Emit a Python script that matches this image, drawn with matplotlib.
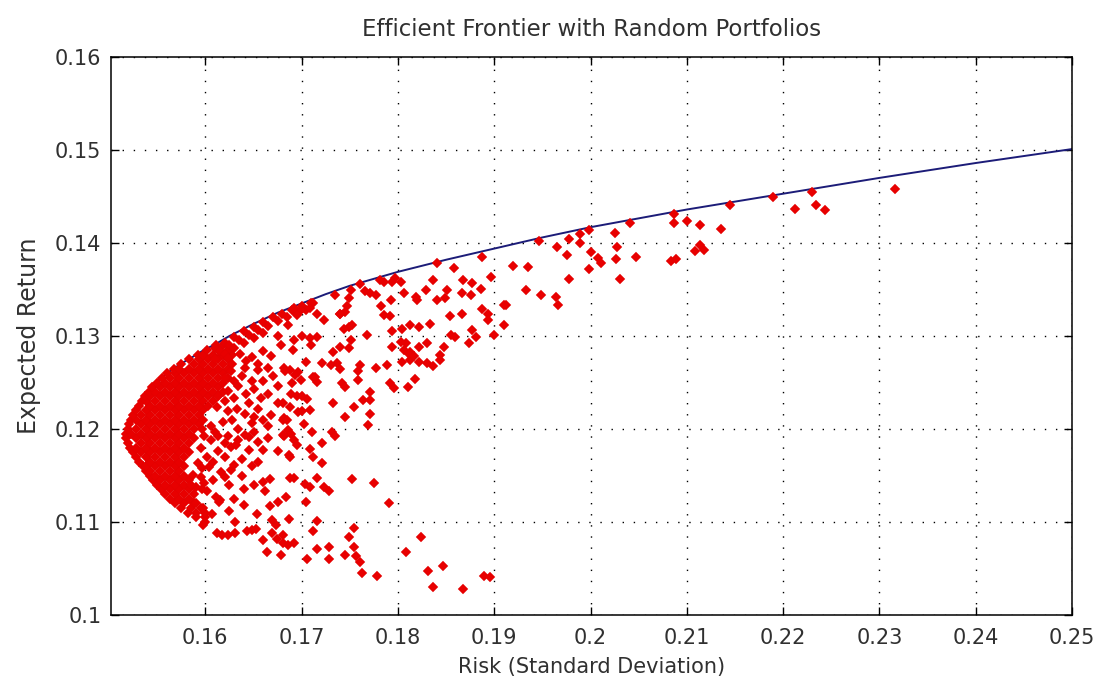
import matplotlib
matplotlib.use("Agg")
import matplotlib.pyplot as plt
from matplotlib.ticker import FixedLocator, FixedFormatter

# ---------------- data ----------------
frontier_risk = [0.1517, 0.1519, 0.1523, 0.1528, 0.1535, 0.1542, 0.1550, 0.1559, 0.1567,
                 0.1576, 0.1586, 0.1597, 0.1610, 0.1625, 0.1650, 0.1675, 0.1700, 0.1725,
                 0.1750, 0.1800, 0.1850, 0.1900, 0.1950, 0.2000, 0.2100, 0.2200, 0.2300,
                 0.2400, 0.2500]
frontier_ret = [0.1190, 0.1200, 0.1211, 0.1222, 0.1233, 0.1242, 0.1251, 0.1259, 0.1265,
                0.1271, 0.1277, 0.1284, 0.1291, 0.1300, 0.1313, 0.1325, 0.1335, 0.1345,
                0.1354, 0.1369, 0.1382, 0.1394, 0.1406, 0.1417, 0.1436, 0.1453, 0.1470,
                0.1486, 0.1501]

# dense cloud near the minimum-variance point: return level -> risks
dense_rows = {
    0.1100: [0.1600],
    0.1105: [0.1590, 0.1600],
    0.1110: [0.1582, 0.1590, 0.1600],
    0.1115: [0.1575, 0.1585, 0.1595],
    0.1120: [0.1568, 0.1578, 0.1588],
    0.1125: [0.1563, 0.1573, 0.1583],
    0.1130: [0.1558, 0.1568, 0.1578, 0.1588],
    0.1135: [0.1554, 0.1563, 0.1573, 0.1583],
    0.1140: [0.1550, 0.1558, 0.1568, 0.1578],
    0.1145: [0.1546, 0.1553, 0.1563, 0.1573, 0.1583],
    0.1150: [0.1542, 0.1548, 0.1558, 0.1568, 0.1578],
    0.1155: [0.1538, 0.1543, 0.1553, 0.1563, 0.1573],
    0.1160: [0.1535, 0.1538, 0.1548, 0.1558, 0.1568, 0.1578],
    0.1165: [0.1531, 0.1543, 0.1553, 0.1563, 0.1573],
    0.1170: [0.1528, 0.1538, 0.1548, 0.1558, 0.1568, 0.1578],
    0.1175: [0.1525, 0.1533, 0.1543, 0.1553, 0.1563, 0.1573, 0.1583],
    0.1180: [0.1522, 0.1528, 0.1538, 0.1548, 0.1558, 0.1568, 0.1578],
    0.1185: [0.1520, 0.1533, 0.1543, 0.1553, 0.1563, 0.1573, 0.1583],
    0.1190: [0.1518, 0.1528, 0.1538, 0.1548, 0.1558, 0.1568, 0.1578, 0.1588],
    0.1195: [0.1518, 0.1523, 0.1533, 0.1543, 0.1553, 0.1563, 0.1573, 0.1583],
    0.1200: [0.1520, 0.1528, 0.1538, 0.1548, 0.1558, 0.1568, 0.1578, 0.1588],
    0.1205: [0.1521, 0.1533, 0.1543, 0.1553, 0.1563, 0.1573, 0.1583, 0.1593],
    0.1210: [0.1523, 0.1528, 0.1538, 0.1548, 0.1558, 0.1568, 0.1578, 0.1588],
    0.1215: [0.1525, 0.1533, 0.1543, 0.1553, 0.1563, 0.1573, 0.1583, 0.1593],
    0.1220: [0.1528, 0.1538, 0.1548, 0.1558, 0.1568, 0.1578, 0.1588, 0.1598],
    0.1225: [0.1531, 0.1543, 0.1553, 0.1563, 0.1573, 0.1583, 0.1593, 0.1603],
    0.1230: [0.1534, 0.1538, 0.1548, 0.1558, 0.1568, 0.1578, 0.1588, 0.1598, 0.1608],
    0.1235: [0.1537, 0.1543, 0.1553, 0.1563, 0.1573, 0.1583, 0.1593, 0.1603, 0.1613],
    0.1240: [0.1541, 0.1548, 0.1558, 0.1568, 0.1578, 0.1588, 0.1598, 0.1608, 0.1618],
    0.1245: [0.1545, 0.1553, 0.1563, 0.1573, 0.1583, 0.1593, 0.1603, 0.1613],
    0.1250: [0.1550, 0.1558, 0.1568, 0.1578, 0.1588, 0.1598, 0.1608, 0.1618],
    0.1255: [0.1555, 0.1563, 0.1573, 0.1583, 0.1593, 0.1603, 0.1613, 0.1623],
    0.1260: [0.1560, 0.1568, 0.1578, 0.1588, 0.1598, 0.1608, 0.1618],
    0.1265: [0.1567, 0.1573, 0.1583, 0.1593, 0.1603, 0.1613, 0.1623],
    0.1270: [0.1575, 0.1588, 0.1598, 0.1608, 0.1618],
    0.1275: [0.1583, 0.1593, 0.1603, 0.1613, 0.1623],
    0.1280: [0.1592, 0.1598, 0.1608, 0.1618, 0.1628],
    0.1285: [0.1602, 0.1613, 0.1623],
    0.1290: [0.1611, 0.1618],
}

# band of portfolios just under the frontier
band_pts = [
    (0.1610, 0.1287), (0.1620, 0.1293), (0.1630, 0.1299), (0.1640, 0.1305), (0.1650, 0.1310),
    (0.1660, 0.1315), (0.1670, 0.1320), (0.1680, 0.1324), (0.1690, 0.1328), (0.1700, 0.1332),
    (0.1710, 0.1336),
    (0.1615, 0.1284), (0.1625, 0.1290), (0.1635, 0.1296), (0.1645, 0.1301), (0.1655, 0.1306),
    (0.1665, 0.1311), (0.1675, 0.1316), (0.1685, 0.1320), (0.1695, 0.1324), (0.1705, 0.1328),
    (0.1610, 0.1275), (0.1620, 0.1281), (0.1630, 0.1287), (0.1640, 0.1293), (0.1650, 0.1298),
    (0.1660, 0.1303),
]

# medium-density portfolios right of the dense cloud
mid_pts = [
    (0.1623, 0.1276), (0.1636, 0.1281), (0.1648, 0.1277), (0.1660, 0.1284), (0.1668, 0.1279),
    (0.1679, 0.1290), (0.1691, 0.1285),
    (0.1627, 0.1262), (0.1641, 0.1266), (0.1655, 0.1263), (0.1665, 0.1266), (0.1682, 0.1266),
    (0.1696, 0.1261),
    (0.1623, 0.1241), (0.1634, 0.1246), (0.1651, 0.1243), (0.1665, 0.1238), (0.1675, 0.1246),
    (0.1689, 0.1238),
    (0.1623, 0.1219), (0.1641, 0.1216), (0.1655, 0.1221), (0.1668, 0.1215), (0.1682, 0.1212),
    (0.1696, 0.1218),
    (0.1634, 0.1200), (0.1651, 0.1197), (0.1665, 0.1203), (0.1686, 0.1199),
    (0.1630, 0.1252), (0.1660, 0.1252), (0.1690, 0.1250), (0.1645, 0.1228), (0.1675, 0.1228),
    (0.1706, 0.1232), (0.1618, 0.1208), (0.1648, 0.1206), (0.1702, 0.1205), (0.1620, 0.1230),
    (0.1705, 0.1272), (0.1710, 0.1290), (0.1700, 0.1300), (0.1675, 0.1300), (0.1686, 0.1312),
    (0.1712, 0.1335), (0.1709, 0.1330), (0.1716, 0.1324), (0.1699, 0.1328), (0.1695, 0.1323),
    (0.1692, 0.1330), (0.1740, 0.1324), (0.1737, 0.1271), (0.1712, 0.1256), (0.1716, 0.1251),
    (0.1667, 0.1146), (0.1640, 0.1135), (0.1625, 0.1140),
    (0.1628, 0.1270), (0.1642, 0.1273), (0.1655, 0.1270),
    (0.1620, 0.1255), (0.1638, 0.1257), (0.1648, 0.1252), (0.1670, 0.1257),
    (0.1613, 0.1236), (0.1630, 0.1233), (0.1642, 0.1238), (0.1658, 0.1233),
    (0.1612, 0.1224), (0.1633, 0.1222), (0.1650, 0.1213),
    (0.1598, 0.1210), (0.1606, 0.1203), (0.1628, 0.1210), (0.1660, 0.1210),
    (0.1597, 0.1200), (0.1610, 0.1197), (0.1645, 0.1191), (0.1655, 0.1186),
    (0.1595, 0.1180), (0.1608, 0.1165), (0.1620, 0.1170), (0.1638, 0.1168), (0.1648, 0.1160),
    (0.1595, 0.1148), (0.1608, 0.1145), (0.1620, 0.1148), (0.1638, 0.1150), (0.1650, 0.1140),
    (0.1630, 0.1125), (0.1598, 0.1115), (0.1625, 0.1112), (0.1640, 0.1118),
]

# lower tail of the cloud
low_pts = [
    (0.1703, 0.1141), (0.1615, 0.1124), (0.1611, 0.1127), (0.1602, 0.1133), (0.1596, 0.1136),
    (0.1590, 0.1120), (0.1627, 0.1156), (0.1630, 0.1161), (0.1616, 0.1154), (0.1604, 0.1159),
    (0.1599, 0.1142), (0.1590, 0.1138), (0.1585, 0.1140), (0.1655, 0.1164), (0.1645, 0.1177),
    (0.1660, 0.1177), (0.1675, 0.1176), (0.1687, 0.1172), (0.1689, 0.1195), (0.1682, 0.1192),
    (0.1665, 0.1190), (0.1641, 0.1194), (0.1634, 0.1188), (0.1627, 0.1181), (0.1632, 0.1183),
    (0.1602, 0.1170), (0.1613, 0.1176), (0.1592, 0.1163), (0.1596, 0.1158), (0.1587, 0.1151),
    (0.1599, 0.1192), (0.1606, 0.1188), (0.1613, 0.1192), (0.1620, 0.1185), (0.1623, 0.1192),
    (0.1791, 0.1120), (0.1754, 0.1094), (0.1749, 0.1084), (0.1754, 0.1073), (0.1745, 0.1065),
    (0.1756, 0.1063), (0.1761, 0.1057), (0.1763, 0.1045), (0.1778, 0.1042), (0.1728, 0.1073),
    (0.1728, 0.1060), (0.1716, 0.1071), (0.1716, 0.1101), (0.1712, 0.1090), (0.1706, 0.1060),
    (0.1704, 0.1122), (0.1684, 0.1127), (0.1687, 0.1103), (0.1692, 0.1077), (0.1686, 0.1075),
    (0.1681, 0.1077), (0.1679, 0.1065), (0.1681, 0.1086), (0.1664, 0.1068), (0.1660, 0.1081),
    (0.1669, 0.1088), (0.1673, 0.1097), (0.1674, 0.1082), (0.1669, 0.1102), (0.1675, 0.1122),
    (0.1667, 0.1117), (0.1654, 0.1109), (0.1648, 0.1091), (0.1643, 0.1090), (0.1653, 0.1092),
    (0.1662, 0.1133), (0.1660, 0.1143), (0.1631, 0.1100), (0.1631, 0.1088), (0.1624, 0.1086),
    (0.1617, 0.1086), (0.1612, 0.1088), (0.1607, 0.1109), (0.1614, 0.1122), (0.1598, 0.1097),
    (0.1824, 0.1084), (0.1808, 0.1068), (0.1847, 0.1053), (0.1831, 0.1047), (0.1836, 0.1030),
    (0.1868, 0.1028), (0.1889, 0.1042), (0.1896, 0.1041),
]

# portfolios in the middle band (0.168 - 0.180 risk)
centre_pts = [
    (0.1777, 0.1266), (0.1789, 0.1269), (0.1761, 0.1269), (0.1830, 0.1271), (0.1844, 0.1274),
    (0.1792, 0.1249), (0.1796, 0.1244), (0.1758, 0.1262), (0.1758, 0.1253), (0.1742, 0.1249),
    (0.1745, 0.1245), (0.1740, 0.1265), (0.1730, 0.1269), (0.1721, 0.1271), (0.1714, 0.1256),
    (0.1699, 0.1253), (0.1693, 0.1258), (0.1688, 0.1263), (0.1683, 0.1262), (0.1771, 0.1240),
    (0.1764, 0.1231), (0.1771, 0.1231), (0.1754, 0.1224), (0.1771, 0.1216), (0.1745, 0.1213),
    (0.1769, 0.1204), (0.1733, 0.1228), (0.1709, 0.1220), (0.1700, 0.1219), (0.1695, 0.1235),
    (0.1700, 0.1235), (0.1688, 0.1224), (0.1681, 0.1228), (0.1681, 0.1210), (0.1685, 0.1210),
    (0.1711, 0.1197), (0.1732, 0.1197), (0.1735, 0.1192), (0.1681, 0.1194), (0.1692, 0.1188),
    (0.1695, 0.1183), (0.1709, 0.1179), (0.1721, 0.1185), (0.1712, 0.1170), (0.1688, 0.1170),
    (0.1721, 0.1163), (0.1692, 0.1147), (0.1688, 0.1147), (0.1716, 0.1147), (0.1752, 0.1146),
    (0.1775, 0.1142), (0.1709, 0.1138), (0.1723, 0.1138), (0.1728, 0.1133),
]

# upper right portfolios
upper_pts = [
    (0.1818, 0.1254), (0.1810, 0.1245), (0.1836, 0.1268), (0.1804, 0.1272), (0.1813, 0.1274),
    (0.1822, 0.1272), (0.1808, 0.1292), (0.1813, 0.1283), (0.1822, 0.1288), (0.1830, 0.1293),
    (0.1844, 0.1280), (0.1848, 0.1288), (0.1855, 0.1301), (0.1874, 0.1292), (0.1881, 0.1299),
    (0.1877, 0.1306), (0.1900, 0.1301), (0.1804, 0.1308), (0.1813, 0.1312), (0.1822, 0.1310),
    (0.1833, 0.1313), (0.1854, 0.1321), (0.1866, 0.1324), (0.1887, 0.1329), (0.1894, 0.1324),
    (0.1893, 0.1317), (0.1912, 0.1333), (0.1820, 0.1339), (0.1841, 0.1339),
    (0.1887, 0.1385), (0.1897, 0.1363), (0.1858, 0.1373), (0.1841, 0.1378), (0.1836, 0.1360),
    (0.1868, 0.1360), (0.1877, 0.1357), (0.1886, 0.1351), (0.1867, 0.1346), (0.1876, 0.1344),
    (0.1851, 0.1349), (0.1849, 0.1341), (0.1829, 0.1350), (0.1819, 0.1342), (0.1806, 0.1346),
    (0.1797, 0.1362), (0.1803, 0.1358), (0.1794, 0.1358), (0.1793, 0.1339), (0.1785, 0.1358),
    (0.1781, 0.1360), (0.1771, 0.1346), (0.1777, 0.1344), (0.1766, 0.1348), (0.1761, 0.1356),
    (0.1751, 0.1349), (0.1749, 0.1341), (0.1735, 0.1344), (0.1782, 0.1332), (0.1785, 0.1323),
    (0.1792, 0.1321), (0.1747, 0.1332), (0.1745, 0.1326), (0.1752, 0.1312), (0.1749, 0.1310),
    (0.1744, 0.1308), (0.1768, 0.1301), (0.1794, 0.1305), (0.1723, 0.1317), (0.1716, 0.1299),
    (0.1709, 0.1298), (0.1692, 0.1296), (0.1733, 0.1283), (0.1740, 0.1288), (0.1749, 0.1287),
    (0.1751, 0.1296), (0.1794, 0.1288), (0.1803, 0.1294), (0.1806, 0.1285), (0.1811, 0.1281),
    (0.1817, 0.1278), (0.1859, 0.1299), (0.1740, 0.1324),
    (0.2316, 0.1458), (0.2230, 0.1455), (0.2212, 0.1437), (0.2234, 0.1441), (0.2243, 0.1436),
    (0.2189, 0.1449), (0.2145, 0.1441), (0.2135, 0.1415), (0.2114, 0.1419), (0.2100, 0.1424),
    (0.2087, 0.1431), (0.2087, 0.1422), (0.2114, 0.1398), (0.2118, 0.1392), (0.2108, 0.1391),
    (0.2084, 0.1381), (0.2089, 0.1383), (0.2047, 0.1385), (0.2041, 0.1421), (0.2025, 0.1411),
    (0.2028, 0.1396), (0.2026, 0.1383), (0.2031, 0.1361), (0.1998, 0.1414), (0.1989, 0.1410),
    (0.1989, 0.1400), (0.1978, 0.1404), (0.1976, 0.1387), (0.1965, 0.1396), (0.1946, 0.1402),
    (0.2000, 0.1390), (0.2008, 0.1384), (0.2011, 0.1378), (0.1998, 0.1372), (0.1978, 0.1361),
    (0.1919, 0.1375), (0.1935, 0.1374), (0.1933, 0.1349), (0.1949, 0.1344), (0.1964, 0.1342),
    (0.1966, 0.1333), (0.1910, 0.1333), (0.1910, 0.1312),
]

x_ticks = [0.16, 0.17, 0.18, 0.19, 0.20, 0.21, 0.22, 0.23, 0.24, 0.25]
x_tick_labels = ["0.16", "0.17", "0.18", "0.19", "0.2", "0.21", "0.22", "0.23", "0.24", "0.25"]
y_ticks = [0.10, 0.11, 0.12, 0.13, 0.14, 0.15, 0.16]
y_tick_labels = ["0.1", "0.11", "0.12", "0.13", "0.14", "0.15", "0.16"]

title_text = "Efficient Frontier with Random Portfolios"
x_label = "Risk (Standard Deviation)"
y_label = "Expected Return"

# ---------------- assemble ----------------
pts = []
for yv, xs in dense_rows.items():
    for xv in xs:
        pts.append((xv, yv))
pts += band_pts + mid_pts + low_pts + centre_pts + upper_pts
port_risk = [p[0] for p in pts]
port_ret = [p[1] for p in pts]

plt.rcParams['font.family'] = ['DejaVu Sans']
fig = plt.figure(figsize=(10.99, 6.87), dpi=100)
fig.patch.set_facecolor('white')
ax = fig.add_axes([111 / 1099, (687 - 615) / 687, (1072 - 111) / 1099, (615 - 57) / 687])

ax.plot(frontier_risk, frontier_ret, color='#1c1c78', lw=1.4, zorder=2)
ax.plot(port_risk, port_ret, linestyle='none', marker='D', markersize=5.5,
        markerfacecolor='#e80000', markeredgecolor='#e00000', markeredgewidth=0.2, zorder=3)

ax.set_xlim(0.1502, 0.25)
ax.set_ylim(0.10, 0.16)
ax.xaxis.set_major_locator(FixedLocator(x_ticks))
ax.xaxis.set_major_formatter(FixedFormatter(x_tick_labels))
ax.yaxis.set_major_locator(FixedLocator(y_ticks))
ax.yaxis.set_major_formatter(FixedFormatter(y_tick_labels))

ax.grid(True, color='black', linestyle=(0, (1, 7)), linewidth=1.0)
ax.set_axisbelow(True)
for sp in ax.spines.values():
    sp.set_linewidth(1.1)
    sp.set_color('black')
ax.tick_params(axis='both', which='major', direction='in', length=6, width=1.0,
               top=True, right=True, labelsize=15, labelcolor='#303030')
ax.tick_params(axis='x', pad=9)
ax.tick_params(axis='y', pad=7)

ax.set_title(title_text, fontsize=16.5, color='#303030', pad=15)
ax.set_xlabel(x_label, fontsize=15, color='#303030', labelpad=7)
ax.set_ylabel(y_label, fontsize=17, color='#303030', labelpad=10)

fig.savefig('out.png', dpi=100, facecolor='white')
